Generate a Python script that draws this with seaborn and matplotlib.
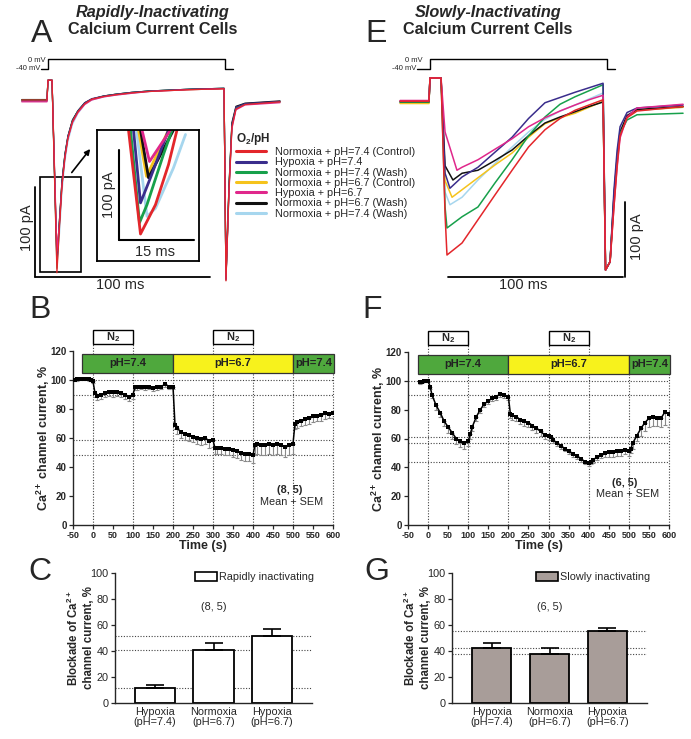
import matplotlib
matplotlib.use("Agg")
import matplotlib.pyplot as plt
import numpy as np
import pandas as pd
import seaborn as sns
from matplotlib.patches import Rectangle, Patch
from matplotlib.lines import Line2D

# ====================== DATA ======================
conditions = ["Normoxia + pH=7.4 (Control)", "Hypoxia + pH=7.4", "Normoxia + pH=7.4 (Wash)",
              "Normoxia + pH=6.7 (Control)", "Hypoxia + pH=6.7", "Normoxia + pH=6.7 (Wash)",
              "Normoxia + pH=7.4 (Wash)"]
trace_ids = ["c1", "c2", "c3", "c4", "c5", "c6", "c7"]
trace_colors = ["#e3262b", "#3a2d8c", "#17a04b", "#f5c31c", "#e0278b", "#111111", "#a6d6ee"]

# voltage protocol (ms, mV)
stepA_t = [-4.0, 0.0, 0.0, 101.1, 101.1, 105.7]
stepE_t = [-7.4, 0.0, 0.0, 101.1, 101.1, 105.7]
step_mV = [-40, -40, 0, 0, -40, -40]

# Panel A: rapidly inactivating currents (ms, pA)
A_t = [-15, -0.6, 0, 2.3, 5.1, 6.6, 8, 9.7, 11.4, 14, 17.1, 21, 25, 32, 39, 48, 58, 81, 100.6,
       101.7, 103.4, 105.1, 107.4, 112.6, 132.6]
A_c1 = [0, 0, 22, 22, -192, -140, -95, -63, -42, -24, -13, -4, 1, 4, 6, 8, 9.5, 11.5, 12.5,
        -201, -102, -30, -10, -5, -2]
A_c2 = [-1, -1, 22, 22, -181, -132, -90, -60, -40, -23, -12, -3, 1.5, 4.5, 6.5, 8.5, 10, 12, 13,
        -199, -98, -27, -8, -4, -1.5]
A_c3 = [0, 0, 22, 22, -187, -136, -92, -61, -41, -23, -12, -3.5, 1, 4.5, 6.5, 8.5, 10, 12, 13,
        -200, -100, -28, -9, -4.5, -2]
A_c4 = [-1, -1, 22, 22, -175, -133, -91, -61, -41, -23, -12, -4, 0.5, 4, 6, 8, 10, 11.5, 12.5,
        -198, -97, -27, -9, -4, -2]
A_c5 = [-2, -2, 22, 22, -168, -136, -95, -64, -43, -25, -14, -5, 0, 3.5, 5.5, 7.5, 9.5, 11.5, 12.5,
        -200, -104, -32, -11, -5.5, -3]
A_c6 = [0.5, 0.5, 22, 22, -176, -132, -90, -60, -40, -22, -12, -3, 1, 4.5, 6.5, 8.5, 10, 12, 13,
        -198, -96, -25, -7, -3.5, -1]
A_c7 = [-1, -1, 22, 22, -180, -148, -102, -68, -46, -27, -15, -5, 0, 3.5, 5.5, 7.5, 9.5, 11.5, 12.5,
        -199, -101, -30, -10, -5, -2.5]

# Panel A inset (zoomed peaks; ms, pA)
In_c1_t = [6.3, 8.7, 11.7, 14.3, 16.0];  In_c1 = [0, -115.6, -83, -38.5, 0]
In_c2_t = [7.3, 8.7, 10.7, 14.3];        In_c2 = [0, -81, -53, 0]
In_c3_t = [6.7, 8.5, 10.0, 13.3, 15.0];  In_c3 = [0, -103, -83, -27, 0]
In_c4_t = [8.3, 9.9, 13.3, 14.3];        In_c4 = [0, -51.5, -12, 0]
In_c5_t = [9.0, 10.5, 14.7];             In_c5 = [0, -35, 0]
In_c6_t = [8.7, 10.3, 15.3];             In_c6 = [0, -53, 0]
In_c7_t = [7.9, 10.0, 11.7, 15.3, 17.7]; In_c7 = [0, -96, -87, -42, -5]

# Panel E: slowly inactivating currents (ms, pA)
E_t_before = [-17.1, -0.6, 0, 6.3, 8.6]
E_trough_t = [9.7, 11.4, 9.7, 12.6, 15.4, 13.1, 11.4]
E_t_after = [18.3, 27.4, 37.1, 46.9, 56.3, 65.7, 74.3, 82.9, 90.9, 98.9,
             100.3, 102.9, 105.1, 106.9, 108.6, 112.6, 118.3, 144.6]
E_c1 = [1, 1, 32, 32, -150, -204, -188, -157, -124, -91, -60, -37, -22, -11, -4, 3,
        -224, -213, -140, -85, -45, -21, -12, -6]
E_c2 = [1, 1, 32, 32, -95, -115, -100, -87, -67, -47, -22, -1, 6, 13, 19, 25,
        -224, -213, -118, -65, -33, -14, -8, -4]
E_c3 = [0, 0, 32, 32, -140, -168, -153, -140, -108, -77, -45, -20, -3, 7, 15, 23,
        -224, -213, -128, -78, -42, -24, -17, -15]
E_c4 = [-2, -2, 32, 32, -105, -127, -117, -101, -84, -68, -47, -29, -21, -15, -7, 1,
        -224, -213, -133, -80, -42, -20, -11, -7]
E_c5 = [2, 2, 32, 32, -40, -91, -87, -77, -63, -49, -33, -21, -12, -4, 3, 9,
        -224, -213, -140, -88, -48, -20, -8, -3]
E_c6 = [0, 0, 32, 32, -85, -104, -95, -91, -78, -64, -45, -28, -20, -13, -6, 0,
        -224, -213, -126, -75, -40, -18, -10, -6]
E_c7 = [-1, -1, 32, 32, -120, -137, -127, -104, -82, -60, -40, -23, -12, -4, 4, 12,
        -224, -213, -125, -72, -38, -19, -11, -7]

# Panel B time course (rapidly inactivating)
B_t = [-45, -40, -30, -20, -10, -5,
       0, 5, 10, 20, 30, 40, 50, 60, 70, 80, 90, 100,
       105, 110, 120, 130, 140, 150, 160, 170, 180, 190, 200,
       205, 210, 220, 230, 240, 250, 260, 270, 280, 290, 300,
       305, 310, 320, 330, 340, 350, 360, 370, 380, 390, 400,
       405, 410, 420, 430, 440, 450, 460, 470, 480, 490, 500,
       505, 510, 520, 530, 540, 550, 560, 570, 580, 590, 600]
B_mean = [100, 100.5, 101, 101, 100.5, 100,
          99, 91, 89, 90, 91, 92, 91.5, 92, 91, 90, 88.5, 90,
          95, 95, 95.5, 95, 95.5, 94.5, 95, 95.5, 97, 95.5, 95.5,
          69, 67, 64, 62.5, 62, 61, 60, 59, 60, 58, 58.5,
          53, 53, 53, 52.5, 52.5, 52, 51, 50, 49, 49, 48,
          55.5, 56, 55.5, 55.5, 56, 55, 56, 55, 54, 55, 56,
          70, 71, 72, 73, 74, 75, 75.5, 76, 77, 76.5, 77]
B_sem = [1, 1, 1, 1, 1, 1,
         1, 3, 3, 3, 3, 3, 3, 3, 3, 3, 3, 3,
         2, 2, 2, 2, 2, 2, 2, 2, 2, 2, 2,
         3, 4, 4, 4, 4, 4, 4, 4, 4, 5, 5,
         4, 4, 4, 4, 4, 5, 5, 5, 5, 5, 5,
         7, 7, 7, 7, 7, 7, 7, 7, 7, 7, 7,
         4, 4, 4, 4, 4, 4, 4, 4, 4, 3, 3]
B_ref = [100, 89.5, 58.5, 48.5]

# Panel F time course (slowly inactivating)
F_t = [-20, -15, -10, -5,
       0, 5, 10, 20, 30, 40, 50, 60, 70, 80, 90, 100,
       105, 110, 120, 130, 140, 150, 160, 170, 180, 190, 200,
       205, 210, 220, 230, 240, 250, 260, 270, 280, 290, 300,
       305, 310, 320, 330, 340, 350, 360, 370, 380, 390, 400,
       405, 410, 420, 430, 440, 450, 460, 470, 480, 490, 500,
       505, 510, 520, 530, 540, 550, 560, 570, 580, 590, 600]
F_mean = [99, 99.5, 100, 100,
          100, 96, 90, 83, 78, 72, 68, 64, 60, 58, 57, 58,
          63, 68, 75, 80, 84, 86, 88, 89, 91, 90, 89,
          77, 76, 75, 73, 72, 71, 69, 67, 65, 62.5, 62,
          61, 59, 57, 55, 53, 51, 49.5, 48, 46, 44, 43,
          44, 45, 47, 48.5, 50, 50.5, 50.5, 51, 51, 52, 51,
          53, 57, 62, 67, 71, 74, 75, 74.5, 74, 78.5, 77]
F_sem = [1, 1, 1, 1,
         1, 2, 2, 3, 3, 3, 4, 4, 4, 4, 4, 3,
         3, 3, 3, 2, 2, 2, 2, 2, 2, 2, 2,
         3, 3, 3, 3, 3, 3, 3, 3, 3, 3, 3,
         2, 2, 2, 2, 2, 2, 2, 2, 2, 2, 2,
         2, 2, 2, 2, 3, 3, 3, 3, 3, 3, 3,
         3, 4, 4, 5, 6, 6, 6, 6, 6, 9, 9]
F_ref = [100, 90.5, 61, 57, 44]

# protocol bars for B and F
ph_labels = ["pH=7.4", "pH=6.7", "pH=7.4"]
ph_colors = ["#4fa83d", "#f7f21c", "#4fa83d"]
B_ph_start = [-27.5, 200, 500]
F_ph_start = [-25, 200, 500]
ph_end = [200, 500, 602]
n2_start = [0, 300]
n2_end = [100, 400]
grid_t = [0, 100, 200, 300, 400, 500, 600]

# Panels C and G: blockade (%)
bar_cats = ["Hypoxia\n(pH=7.4)", "Normoxia\n(pH=6.7)", "Hypoxia\n(pH=6.7)"]
C_vals = [11.5, 41, 51.5]
C_errs = [2, 5, 5.5]
G_vals = [42.5, 38, 55.5]
G_errs = [4, 4, 2.5]

# ====================== STYLE ======================
sns.set_theme(style="ticks")
plt.rcParams['font.family'] = ['Liberation Sans', 'DejaVu Sans']
plt.rcParams['mathtext.fontset'] = 'custom'
plt.rcParams['mathtext.rm'] = 'Liberation Sans'
plt.rcParams['mathtext.bf'] = 'Liberation Sans:bold'
plt.rcParams['mathtext.it'] = 'Liberation Sans:italic'
plt.rcParams['axes.linewidth'] = 1.0
plt.rcParams['axes.unicode_minus'] = False

W, H = 691, 739
fig = plt.figure(figsize=(W / 100, H / 100), dpi=100)


def px_axes(l, t, r, b):
    return fig.add_axes([l / W, 1 - b / H, (r - l) / W, (b - t) / H])


def fig_text(x, y, s, **kw):
    fig.text(x / W, 1 - y / H, s, **kw)


pal = dict(zip(trace_ids, trace_colors))
draw_order = ["c7", "c4", "c6", "c3", "c2", "c5", "c1"]


def traces_frame(t_lists, i_lists):
    parts = []
    for tid, t, i in zip(trace_ids, t_lists, i_lists):
        parts.append(pd.DataFrame({"t": t, "I": i, "trace": tid}))
    return pd.concat(parts, ignore_index=True)


# ---------------- Titles and panel letters ----------------
for cx, name in [(153, "Rapidly-Inactivating"), (488, "Slowly-Inactivating")]:
    fig_text(cx, 17, name, fontsize=11.7, fontweight="bold", style="italic", ha="center", va="baseline")
    fig_text(cx, 34, "Calcium Current Cells", fontsize=11.7, fontweight="bold", ha="center", va="baseline")
for x, y, s in [(42, 42, "A"), (376, 42, "E"), (40, 318, "B"), (372, 318, "F"), (40, 580, "C"), (377, 580, "G")]:
    fig_text(x, y, s, fontsize=23, ha="center", va="baseline")

# ---------------- Panel A ----------------
axA = px_axes(15, 75, 290, 295)
dfA = traces_frame([A_t] * 7, [A_c1, A_c2, A_c3, A_c4, A_c5, A_c6, A_c7])
sns.lineplot(data=dfA, x="t", y="I", hue="trace", hue_order=draw_order, palette=pal,
             estimator=None, sort=False, legend=False, lw=0.9, ax=axA)
axA.set_xlim(-18.86, 138.29)
axA.set_ylim(-216.7, 27.8)
axA.axis("off")
axA.plot([-7.4, -7.4], [-96.7, -196.7], color="black", lw=1.3)
axA.plot([-7.4, 92.6], [-196.7, -196.7], color="black", lw=1.3)
axA.text(-12, -142, "100 pA", rotation=90, fontsize=10.5, ha="center", va="center")
axA.text(41, -206, "100 ms", fontsize=10.5, ha="center", va="center")
axA.add_patch(Rectangle((-4.6, -191), 23.5, 105.4, fill=False, ec="black", lw=1.2))
axA.annotate("", xy=(25.1, -52), xytext=(12.6, -83),
             arrowprops=dict(arrowstyle="-|>", color="black", lw=1.2, mutation_scale=8))

pA = px_axes(15, 50, 290, 75)
sns.lineplot(x=stepA_t, y=step_mV, color="black", lw=1.0, estimator=None, sort=False, ax=pA)
pA.set_xlim(-18.86, 138.29)
pA.set_ylim(-64, 36)
pA.axis("off")
pA.text(-1.2, -4, "0 mV", fontsize=5.5, ha="right", va="center")
pA.text(-4.3, -40, "-40 mV", fontsize=5.5, ha="right", va="center")

# inset
axI = px_axes(97, 130, 199, 261)
dfI = traces_frame([In_c1_t, In_c2_t, In_c3_t, In_c4_t, In_c5_t, In_c6_t, In_c7_t],
                   [In_c1, In_c2, In_c3, In_c4, In_c5, In_c6, In_c7])
sns.lineplot(data=dfI, x="t", y="I", hue="trace", hue_order=draw_order, palette=pal,
             estimator=None, sort=False, legend=False, lw=2.0, ax=axI)
axI.set_xlim(0, 20.4)
axI.set_ylim(-145.6, 0)
axI.set_xticks([]); axI.set_yticks([])
axI.set_xlabel(""); axI.set_ylabel("")
for sp in axI.spines.values():
    sp.set_linewidth(1.3); sp.set_color("black"); sp.set_visible(True)
axI.plot([4.4, 4.4], [-22.2, -122.2], color="black", lw=1.5)
axI.plot([4.4, 19.4], [-122.2, -122.2], color="black", lw=1.5)
axI.text(2.4, -72, "100 pA", rotation=90, fontsize=10.5, ha="center", va="center")
axI.text(11.6, -136, "15 ms", fontsize=10.5, ha="center", va="center")

# legend
handles = [Line2D([0], [0], color=c, lw=2.2) for c in trace_colors]
leg = fig.legend(handles, conditions, loc="upper left", bbox_to_anchor=(236 / W, 1 - 131 / H),
                 frameon=False, fontsize=7.8, handlelength=2.8, handletextpad=0.8,
                 labelspacing=0.02, borderpad=0, borderaxespad=0,
                 title=r"O$_\mathbf{2}$/pH", title_fontproperties={"weight": "bold", "size": 8.5},
                 alignment="left")

# ---------------- Panel E ----------------
axE = px_axes(390, 72, 690, 285)
E_t_lists = [E_t_before + [tt] + E_t_after for tt in E_trough_t]
dfE = traces_frame(E_t_lists, [E_c1, E_c2, E_c3, E_c4, E_c5, E_c6, E_c7])
sns.lineplot(data=dfE, x="t", y="I", hue="trace", hue_order=draw_order, palette=pal,
             estimator=None, sort=False, legend=False, lw=1.1, ax=axE)
axE.set_xlim(-22.86, 148.57)
axE.set_ylim(-244, 40)
axE.axis("off")
axE.plot([111.4, 111.4], [-133.3, -233.3], color="black", lw=1.3)
axE.plot([10.3, 110.3], [-233.3, -233.3], color="black", lw=1.3)
axE.text(118.3, -180, "100 pA", rotation=90, fontsize=10.5, ha="center", va="center")
axE.text(53, -244, "100 ms", fontsize=10.5, ha="center", va="center", clip_on=False)

pE = px_axes(390, 50, 690, 75)
sns.lineplot(x=stepE_t, y=step_mV, color="black", lw=1.0, estimator=None, sort=False, ax=pE)
pE.set_xlim(-22.86, 148.57)
pE.set_ylim(-64, 36)
pE.axis("off")
pE.text(-4.0, -4, "0 mV", fontsize=5.5, ha="right", va="center")
pE.text(-7.6, -40, "-40 mV", fontsize=5.5, ha="right", va="center")


# ---------------- Panels B and F ----------------
def timecourse(ax, t, m, s, refs, ph_start, n_text, n_xy, sem_xy):
    for r in refs:
        ax.axhline(r, color="#444444", ls=(0, (1, 1.5)), lw=0.8, zorder=0.5)
    ax.vlines(grid_t, 0, 118, colors="#444444", linestyles=(0, (1, 1.5)), lw=0.8, zorder=0.5, clip_on=False)
    ax.vlines(n2_start + n2_end, 118, 125, colors="#444444", linestyles=(0, (1, 1.5)), lw=0.8,
              zorder=0.5, clip_on=False)
    ax.errorbar(t, m, yerr=[s, [0] * len(s)], fmt="none", ecolor="#8a8a8a", elinewidth=0.8,
                capsize=1.3, capthick=0.8, zorder=2)
    sns.lineplot(x=t, y=m, ax=ax, color="black", lw=1.1, marker="s", markersize=2.8,
                 markeredgewidth=0, estimator=None, sort=False, zorder=3)
    for st, en, lab, col in zip(ph_start, ph_end, ph_labels, ph_colors):
        ax.add_patch(Rectangle((st, 105), en - st, 13, fc=col, ec="#333333", lw=0.9,
                               clip_on=False, zorder=4))
        ax.text((st + en) / 2, 111.5, lab, fontsize=8, fontweight="bold", color="#222222",
                ha="center", va="center", zorder=5)
    for st, en in zip(n2_start, n2_end):
        ax.add_patch(Rectangle((st, 125), en - st, 9.5, fc="white", ec="black", lw=1.0,
                               clip_on=False, zorder=4))
        ax.text((st + en) / 2, 129.8, r"N$_\mathbf{2}$", fontsize=8, fontweight="bold",
                ha="center", va="center", zorder=5)
    ax.text(n_xy[0], n_xy[1], n_text, fontsize=7.8, fontweight="bold", ha="center", va="center")
    ax.text(sem_xy[0], sem_xy[1], "Mean + SEM", fontsize=7.8, ha="center", va="center")
    ax.set_xlim(-50, 600)
    ax.set_ylim(0, 120)
    ax.set_xticks(range(-50, 601, 50))
    ax.set_yticks(range(0, 121, 20))
    ax.tick_params(axis="both", direction="out", length=3, width=0.9, pad=1.5)
    ax.tick_params(axis="x", labelsize=6.5)
    ax.tick_params(axis="y", labelsize=7)
    for lab in ax.get_xticklabels() + ax.get_yticklabels():
        lab.set_fontweight("bold")
    ax.set_xlabel("Time (s)", fontsize=9, fontweight="bold", labelpad=0)
    ax.set_ylabel(r"Ca$^{\mathbf{2+}}$ channel current, %", fontsize=9, fontweight="bold", labelpad=-1)
    sns.despine(ax=ax)


axB = px_axes(73, 351, 333, 525)
timecourse(axB, B_t, B_mean, B_sem, B_ref, B_ph_start, "(8, 5)", (492.5, 24), (497.5, 16))
axF = px_axes(408, 352, 669, 525)
timecourse(axF, F_t, F_mean, F_sem, F_ref, F_ph_start, "(6, 5)", (490, 29), (497, 21.5))


# ---------------- Panels C and G ----------------
def bar_panel(ax, vals, errs, color, leg_label, leg_xy, n_text):
    for r in vals:
        ax.axhline(r, color="#444444", ls=(0, (1, 1.5)), lw=0.8, zorder=0.5)
    sns.barplot(x=bar_cats, y=vals, ax=ax, color=color, edgecolor="black", linewidth=1.3,
                width=0.684, saturation=1, zorder=2)
    ax.errorbar(range(3), vals, yerr=[[0, 0, 0], errs], fmt="none", ecolor="black",
                elinewidth=1.2, capsize=6.5, capthick=1.2, zorder=3)
    ax.set_xlim(-0.684, 2.684)
    ax.set_ylim(0, 100)
    ax.set_yticks(range(0, 101, 20))
    ax.tick_params(axis="y", direction="out", length=3, width=0.9, labelsize=7.8, pad=1.5)
    ax.tick_params(axis="x", length=0, labelsize=7.8, pad=3)
    for lab in ax.get_xticklabels():
        lab.set_linespacing(1.0)
    ax.set_ylabel("Blockade of Ca$^{\\mathbf{2+}}$\nchannel current, %", fontsize=8.3,
                  fontweight="bold", labelpad=-3, linespacing=1.15)
    ax.text(1.0, 74, n_text, fontsize=7.8, ha="center", va="center")
    ax.legend(handles=[Patch(facecolor=color, edgecolor="black", linewidth=1.2)], labels=[leg_label],
              loc="upper left", bbox_to_anchor=(leg_xy[0] / W, 1 - leg_xy[1] / H),
              bbox_transform=fig.transFigure, frameon=False, fontsize=7.8, handlelength=2.0,
              handleheight=0.9, handletextpad=0.25, borderpad=0, borderaxespad=0)
    sns.despine(ax=ax)


axC = px_axes(115, 573, 312, 703)
bar_panel(axC, C_vals, C_errs, "white", "Rapidly inactivating", (195, 572), "(8, 5)")
axG = px_axes(452, 573, 647, 703)
bar_panel(axG, G_vals, G_errs, "#a89d99", "Slowly inactivating", (536, 572), "(6, 5)")

fig.savefig("out.png", dpi=100)
